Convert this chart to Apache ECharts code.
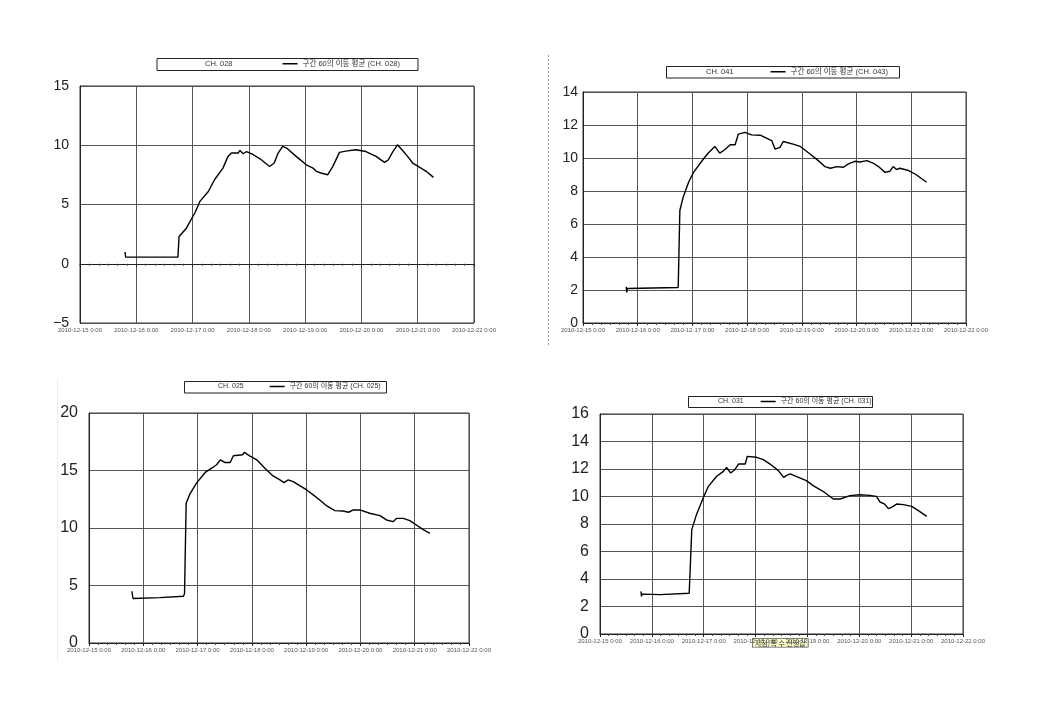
<!DOCTYPE html>
<html>
<head>
<meta charset="utf-8">
<script src="https://cdn.jsdelivr.net/npm/echarts@6/dist/echarts.min.js"></script>
<style>html,body{margin:0;padding:0;background:#fff}#c{width:1050px;height:701px}</style>
</head>
<body>
<div id="c"></div>
<script>
// x tick labels (days since 2010-12-15 0:00)
const xTickLabels = ['2010-12-15 0:00','2010-12-16 0:00','2010-12-17 0:00','2010-12-18 0:00','2010-12-19 0:00','2010-12-20 0:00','2010-12-21 0:00','2010-12-22 0:00'];

// CH. 028 (top-left)
const ch028Days = [0.80,0.81,1.74,1.76,1.89,2.04,2.13,2.28,2.39,2.42,2.54,2.63,2.69,2.81,2.84,2.90,2.96,3.08,3.22,3.37,3.45,3.52,3.55,3.60,3.67,3.84,4.02,4.14,4.20,4.28,4.40,4.49,4.61,4.72,4.90,5.08,5.26,5.41,5.48,5.56,5.64,5.72,5.82,5.91,6.03,6.15,6.28];
const ch028Vals = [0.99,0.56,0.56,2.30,3.00,4.28,5.26,6.10,7.09,6.95,8.07,9.06,9.34,9.34,9.56,9.28,9.47,9.20,8.78,8.21,8.50,9.34,9.40,9.90,9.76,9.06,8.35,8.07,7.80,7.66,7.51,8.20,9.40,9.50,9.62,9.47,9.06,8.55,8.78,9.47,10.04,9.62,9.06,8.50,8.16,7.80,7.29];

// CH. 043 (top-right)
const ch043Days = [0.79,0.80,0.81,1.74,1.77,1.83,1.93,2.02,2.20,2.29,2.41,2.50,2.59,2.69,2.78,2.84,2.96,3.08,3.24,3.39,3.45,3.51,3.60,3.66,3.84,3.97,4.15,4.30,4.42,4.52,4.64,4.76,4.85,4.97,5.06,5.19,5.31,5.40,5.52,5.61,5.67,5.73,5.79,5.95,6.07,6.28];
const ch043Vals = [2.20,1.85,2.09,2.15,6.82,7.62,8.53,9.13,9.94,10.30,10.70,10.30,10.50,10.80,10.80,11.45,11.55,11.40,11.38,11.15,11.05,10.54,10.64,11.00,10.84,10.70,10.24,9.84,9.48,9.38,9.48,9.44,9.64,9.80,9.76,9.84,9.68,9.48,9.13,9.20,9.48,9.30,9.38,9.24,9.03,8.53];

// CH. 025 (bottom-left)
const ch025Days = [0.79,0.81,1.30,1.74,1.76,1.79,1.86,1.98,2.14,2.26,2.35,2.42,2.50,2.60,2.66,2.83,2.86,2.96,3.09,3.24,3.39,3.51,3.59,3.67,3.76,3.89,4.01,4.13,4.25,4.38,4.53,4.68,4.78,4.87,4.99,5.17,5.36,5.48,5.60,5.67,5.79,5.91,6.03,6.15,6.28];
const ch025Vals = [4.50,3.87,3.95,4.07,4.30,12.15,12.97,13.90,14.83,15.20,15.50,15.93,15.70,15.70,16.28,16.37,16.57,16.28,15.93,15.20,14.53,14.20,13.95,14.19,14.04,13.66,13.31,12.88,12.44,11.92,11.51,11.48,11.37,11.57,11.57,11.28,11.08,10.70,10.55,10.84,10.84,10.64,10.26,9.88,9.53];

// CH. 031 (bottom-right)
const ch031Days = [0.79,0.80,0.81,1.16,1.72,1.77,1.86,1.99,2.09,2.25,2.38,2.44,2.52,2.60,2.67,2.80,2.84,3.02,3.15,3.28,3.44,3.54,3.60,3.67,3.78,3.98,4.11,4.30,4.50,4.63,4.82,5.01,5.20,5.33,5.40,5.49,5.56,5.62,5.72,5.85,6.01,6.14,6.30];
const ch031Vals = [3.10,2.74,2.90,2.86,2.96,7.59,8.68,9.89,10.74,11.47,11.83,12.12,11.71,11.95,12.36,12.36,12.92,12.85,12.68,12.36,11.88,11.39,11.54,11.64,11.47,11.15,10.79,10.38,9.82,9.82,10.06,10.13,10.08,10.01,9.60,9.45,9.12,9.21,9.45,9.41,9.28,8.97,8.56];

const charts = [
  {raw:'CH. 028', avg:'구간 60의 이동 평균 (CH. 028)', days:ch028Days, vals:ch028Vals,
   grid:{left:80,top:86,width:394,height:237}, y:{min:-5,max:15,interval:5,font:14,margin:11},
   box:[157,58.5,261,12], legendLeft:185, legendTop:60, gap:50, lfont:7.5, zeroAxis:true},
  {raw:'CH. 041', avg:'구간 60의 이동 평균 (CH. 043)', days:ch043Days, vals:ch043Vals,
   grid:{left:583,top:92,width:383,height:231}, y:{min:0,max:14,interval:2,font:14,margin:5},
   box:[666.5,66.5,233,11.5], legendLeft:686, legendTop:68, gap:37, lfont:7.5},
  {raw:'CH. 025', avg:'구간 60의 이동 평균 (CH. 025)', days:ch025Days, vals:ch025Vals,
   grid:{left:89,top:413,width:380,height:230}, y:{min:0,max:20,interval:5,font:16,margin:11},
   box:[184.5,381.5,202,11.5], legendLeft:198, legendTop:383, gap:26, lfont:7},
  {raw:'CH. 031', avg:'구간 60의 이동 평균 (CH. 031)', days:ch031Days, vals:ch031Vals,
   grid:{left:600,top:414,width:363,height:220}, y:{min:0,max:16,interval:2,font:16,margin:11},
   box:[688.5,396.5,184,11], legendLeft:698, legendTop:398, gap:17, lfont:7}
];

const grid = [], xAxis = [], yAxis = [], series = [], legend = [], graphic = [];
const ff = '"Liberation Sans", "Noto Sans CJK KR", sans-serif';

charts.forEach((c, i) => {
  grid.push(Object.assign({show:true, borderColor:'#333', borderWidth:1, backgroundColor:'#fff', outerBoundsMode:'none'}, c.grid));
  const xi = xAxis.length;
  xAxis.push({
    type:'value', gridIndex:i, min:0, max:7, interval:1, position:'bottom',
    axisLine:{show:!c.zeroAxis, onZero:false, lineStyle:{color:'#222', width:1}},
    axisTick:{show:!c.zeroAxis, length:3, lineStyle:{color:'#222'}},
    minorTick:{show:!c.zeroAxis, splitNumber:6, length:2, lineStyle:{color:'#444'}},
    splitLine:{show:true, lineStyle:{color:'#555', width:1}},
    axisLabel:{fontSize:6, color:'#555', fontFamily:ff, margin:4, formatter:v => xTickLabels[Math.round(v)]}
  });
  if (c.zeroAxis) {
    xAxis.push({
      type:'value', gridIndex:i, min:0, max:7, interval:1, position:'bottom',
      axisLine:{show:true, onZero:true, lineStyle:{color:'#222', width:1}},
      axisTick:{show:true, length:3, lineStyle:{color:'#222'}},
      minorTick:{show:true, splitNumber:6, length:2, lineStyle:{color:'#444'}},
      splitLine:{show:false}, axisLabel:{show:false}
    });
  }
  yAxis.push({
    type:'value', gridIndex:i, min:c.y.min, max:c.y.max, interval:c.y.interval,
    axisLine:{show:true, lineStyle:{color:'#222'}}, axisTick:{show:false},
    splitLine:{show:true, lineStyle:{color:'#555', width:1}},
    axisLabel:{fontSize:c.y.font, color:'#222', fontFamily:ff, margin:c.y.margin,
      formatter:v => String(v).replace('-', '\u2212')}
  });
  series.push({name:c.raw, type:'line', xAxisIndex:xi, yAxisIndex:i, data:[], color:'rgba(0,0,0,0)', silent:true});
  series.push({name:c.avg, type:'line', xAxisIndex:xi, yAxisIndex:i, color:'#000',
    showSymbol:false, symbol:'none', lineStyle:{color:'#000', width:1.4}, silent:true,
    data:c.days.map((d, k) => [d, c.vals[k]])});
  legend.push({data:[c.raw, c.avg], left:c.legendLeft, top:c.legendTop, padding:0, itemGap:c.gap,
    itemWidth:15, itemHeight:1.5, icon:'rect', selectedMode:false,
    textStyle:{fontSize:c.lfont, color:'#333', fontFamily:ff, padding:[0,0,0,0]}});
  graphic.push({type:'rect', shape:{x:c.box[0], y:c.box[1], width:c.box[2], height:c.box[3]},
    style:{fill:'none', stroke:'#222', lineWidth:1}, silent:true});
});

// dotted separator between top charts
graphic.push({type:'line', shape:{x1:548.5, y1:55, x2:548.5, y2:345}, style:{stroke:'#999', lineWidth:1, lineDash:[2,2]}});
graphic.push({type:'line', shape:{x1:57.5, y1:378, x2:57.5, y2:662}, style:{stroke:'#eee', lineWidth:1}});
// small yellow note under the bottom-right chart
graphic.push({type:'text', left:752, top:638, style:{text:'지점/폭 수 산정값', font:'7px "Noto Sans CJK KR"', fill:'#333',
  backgroundColor:'#ffffcc', borderColor:'#555', borderWidth:0.8, padding:[1,2,0,2]}});

const chart = echarts.init(document.getElementById('c'), null, {renderer:'canvas'});
chart.setOption({animation:false, backgroundColor:'#fff', grid, xAxis, yAxis, series, legend, graphic});
</script>
</body>
</html>
